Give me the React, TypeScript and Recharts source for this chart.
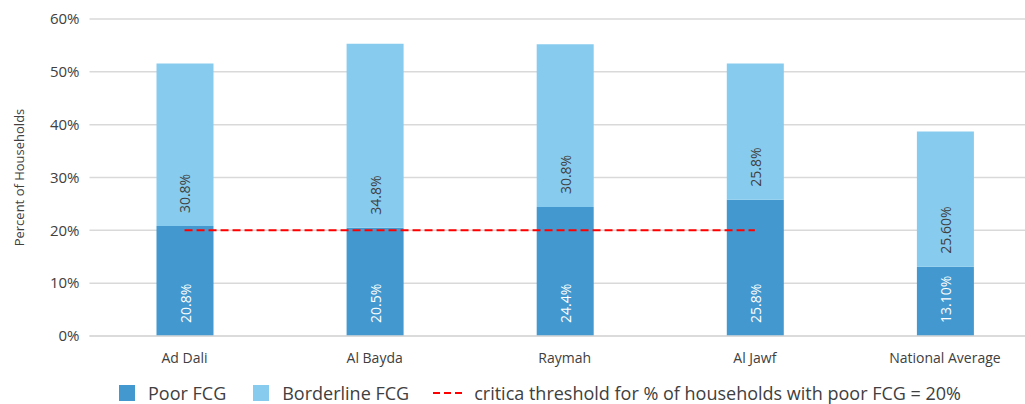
import { Bar, CartesianGrid, ComposedChart, Legend, Line, XAxis, YAxis } from "recharts";

const regions = ["Ad Dali", "Al Bayda", "Raymah", "Al Jawf", "National Average"];
const poor = [20.8, 20.5, 24.4, 25.8, 13.1];
const borderline = [30.8, 34.8, 30.8, 25.8, 25.6];
const poorLabels = ["20.8%", "20.5%", "24.4%", "25.8%", "13.10%"];
const borderlineLabels = ["30.8%", "34.8%", "30.8%", "25.8%", "25.60%"];
const threshold = [20, 20, 20, 20, null];
const yTicks = [0, 10, 20, 30, 40, 50, 60];

const data = regions.map((name, i) => ({
  name,
  poor: poor[i],
  borderline: borderline[i],
  threshold: threshold[i],
}));

const POOR = "#4398CF";
const BORDER = "#87CBEE";
const FONT = "'Open Sans', sans-serif";

// labels sit near the base of each segment, rotated, like Excel "inside base"
function baseLabel(color: string, labels: string[]) {
  return (props: any) => {
    const { x, y, width, height, index } = props;
    const cx = x + width / 2;
    const by = y + height - 13;
    return (
      <text
        x={cx}
        y={by}
        transform={`rotate(-90 ${cx} ${by})`}
        textAnchor="start"
        dominantBaseline="central"
        fill={color}
        fontSize={14}
        fontFamily={FONT}
      >
        {labels[index]}
      </text>
    );
  };
}

function LegendBox() {
  const item = { display: "flex", alignItems: "center" } as const;
  const sq = (c: string) => (
    <span style={{ width: 16, height: 16, background: c, display: "inline-block", marginRight: 13 }} />
  );
  return (
    <div
      style={{
        height: 36,
        display: "flex",
        alignItems: "flex-end",
        paddingLeft: 119,
        boxSizing: "border-box",
        fontFamily: FONT,
        fontSize: 18,
        color: "#404040",
        lineHeight: "20px",
        paddingBottom: 1,
      }}
    >
      <span style={{ ...item, marginRight: 27 }}>{sq(POOR)}Poor FCG</span>
      <span style={{ ...item, marginRight: 24 }}>{sq(BORDER)}Borderline FCG</span>
      <span style={item}>
        <svg width={30} height={4} style={{ marginRight: 11 }}>
          <line x1={0} y1={2} x2={30} y2={2} stroke="#FF0000" strokeWidth={2} strokeDasharray="7 4" />
        </svg>
        critica threshold for % of households with poor FCG = 20%
      </span>
    </div>
  );
}

export default function App() {
  return (
    <div style={{ position: "absolute", left: 0, top: 0, width: 1025, height: 404, overflow: "hidden", background: "#fff" }}>
      <ComposedChart
        width={1040}
        height={404}
        data={data}
        margin={{ top: 19, right: 0, bottom: 0, left: 0 }}
        barSize={57}
      >
        <CartesianGrid vertical={false} stroke="#d9d9d9" strokeWidth={1.5} />
        <XAxis
          dataKey="name"
          height={32}
          axisLine={{ stroke: "#d9d9d9", strokeWidth: 1.5 }}
          tickLine={false}
          tickMargin={11}
          tick={{ fill: "#404040", fontSize: 14, fontFamily: FONT }}
        />
        <YAxis
          width={89.5}
          domain={[0, 60]}
          ticks={yTicks}
          tickFormatter={(v) => `${v}%`}
          axisLine={false}
          tickLine={false}
          tickMargin={4}
          tick={{ fill: "#404040", fontSize: 15, fontFamily: FONT }}
          label={{
            value: "Percent of Households",
            angle: -90,
            position: "insideLeft",
            offset: 19,
            style: { textAnchor: "middle", fill: "#404040", fontSize: 13, fontFamily: FONT },
          }}
        />
        <Legend verticalAlign="bottom" content={() => <LegendBox />} />
        <Bar dataKey="poor" stackId="a" fill={POOR} isAnimationActive={false} label={baseLabel("#ffffff", poorLabels)} />
        <Bar
          dataKey="borderline"
          stackId="a"
          fill={BORDER}
          isAnimationActive={false}
          label={baseLabel("#404040", borderlineLabels)}
        />
        <Line
          dataKey="threshold"
          stroke="#FF0000"
          strokeWidth={2}
          strokeDasharray="8 4"
          dot={false}
          activeDot={false}
          isAnimationActive={false}
        />
      </ComposedChart>
    </div>
  );
}
